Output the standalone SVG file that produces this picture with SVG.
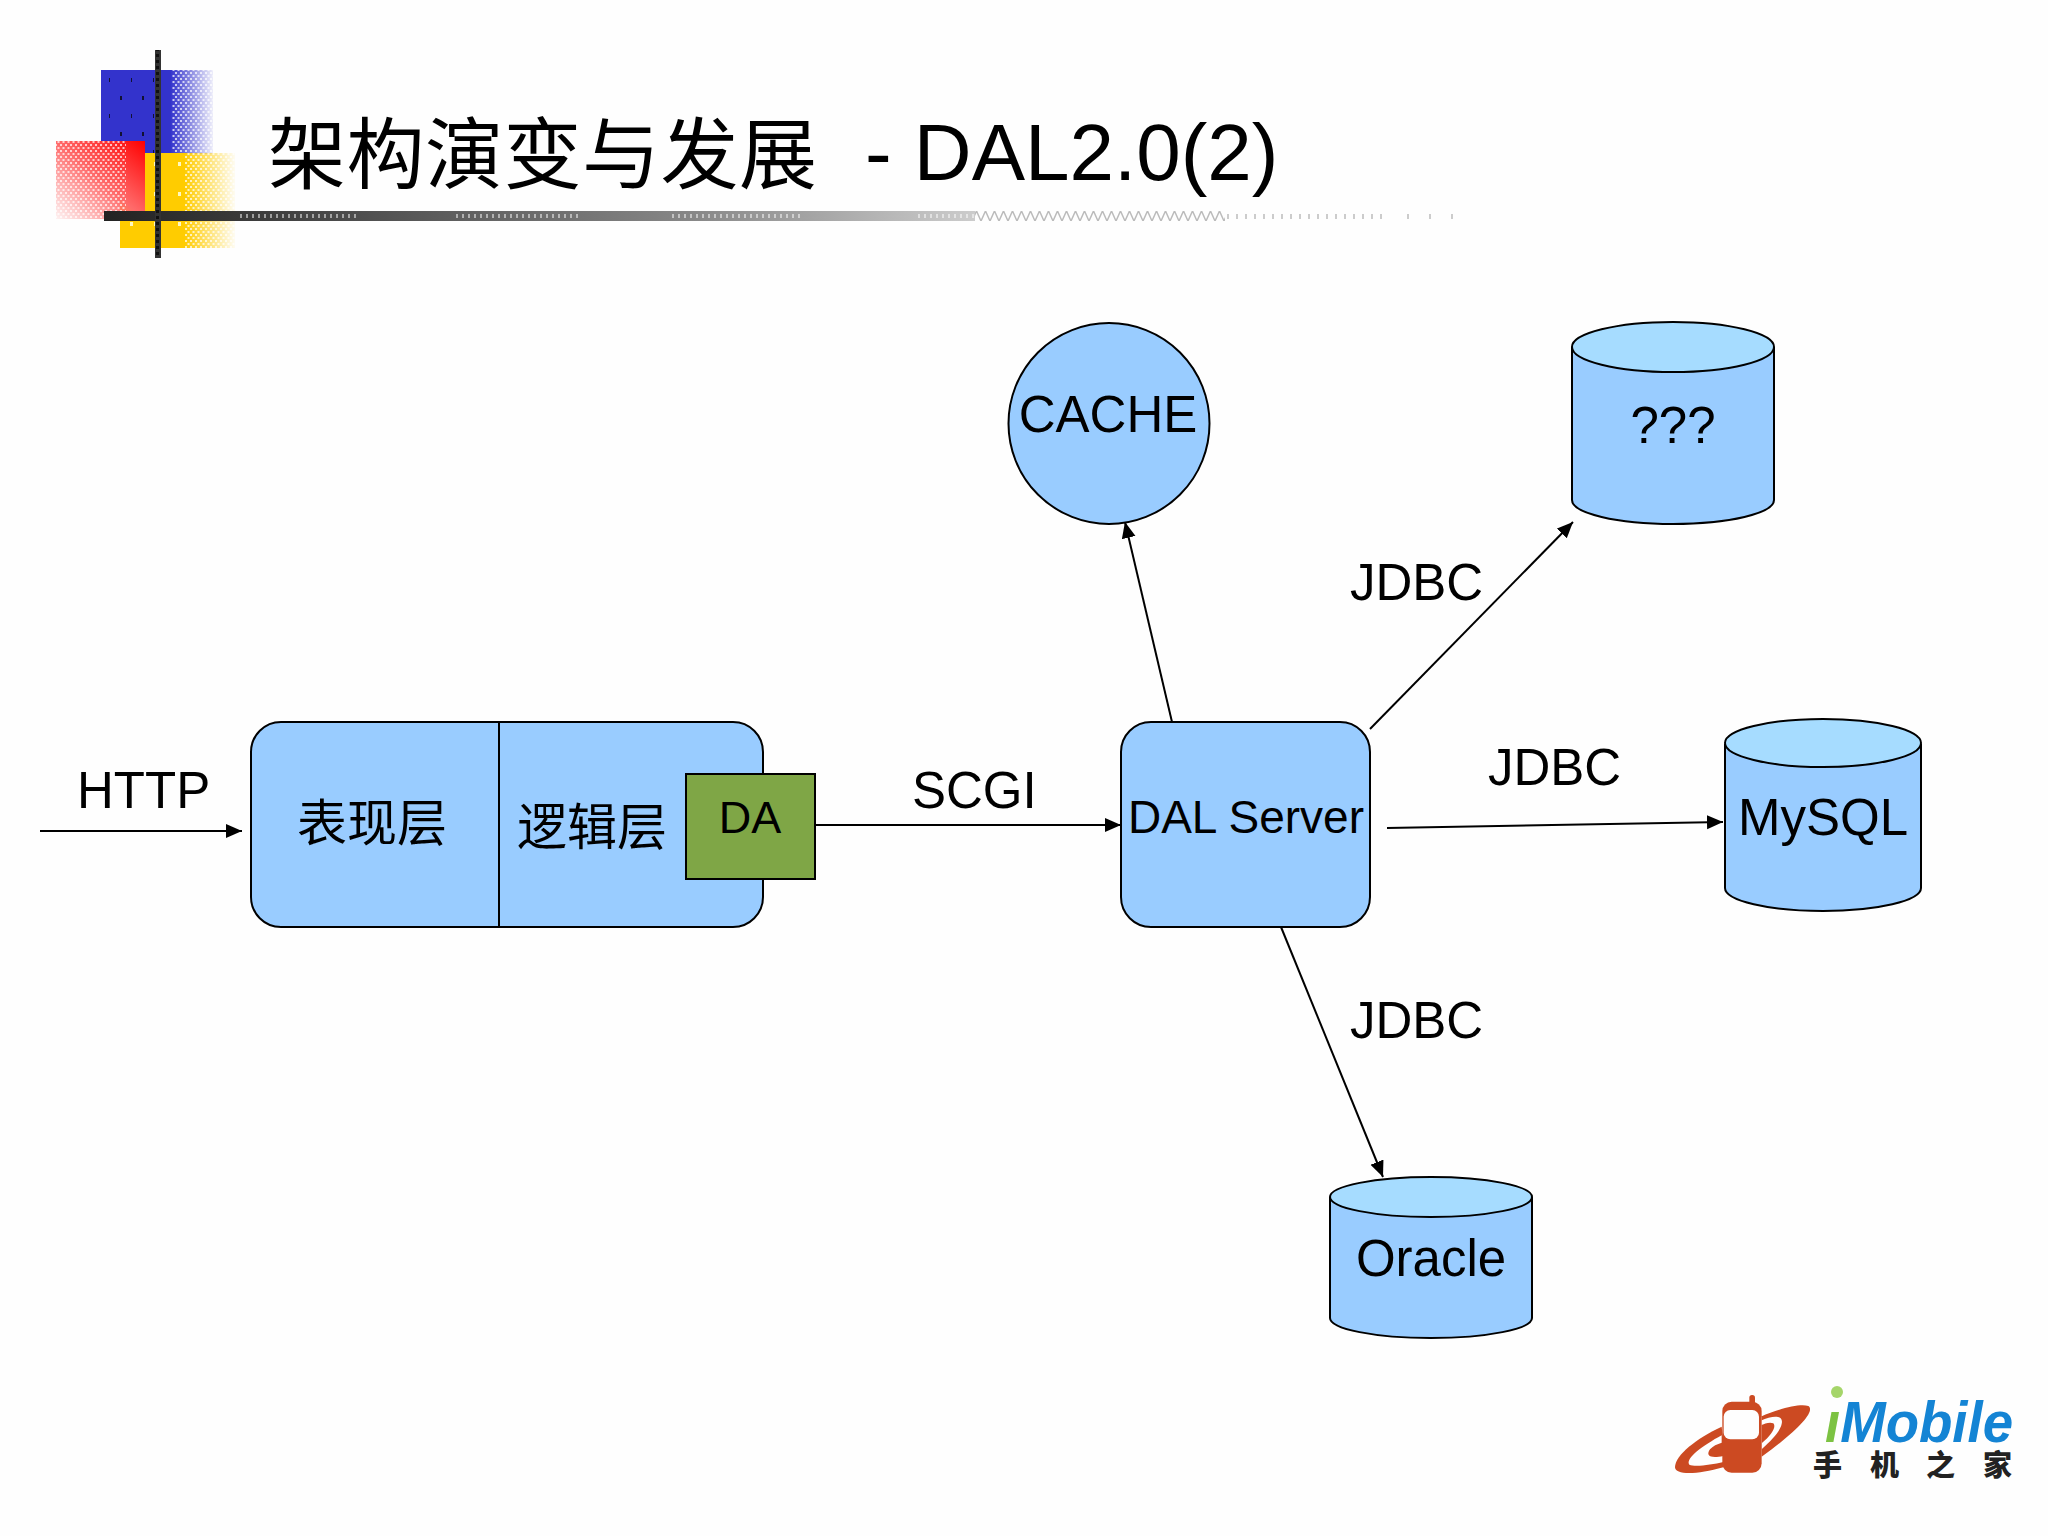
<svg xmlns="http://www.w3.org/2000/svg" width="2048" height="1536" viewBox="0 0 2048 1536">
<style>
text{font-family:"Liberation Sans","Noto Sans CJK SC",sans-serif;fill:#000}
.n{fill:#99ccff;stroke:#000;stroke-width:2}
.top{fill:#a6dcff;stroke:#000;stroke-width:2}
.l{font-size:51px}
.c{font-size:50px;text-anchor:middle}
.cn{stroke:#000;stroke-width:2;fill:none;marker-end:url(#a)}
</style>
<defs>
<marker id="a" markerUnits="userSpaceOnUse" markerWidth="18" markerHeight="16" refX="16" refY="7" orient="auto"><path d="M0 0L16 7L0 14Z" fill="#000"/></marker>
<linearGradient id="bl" x1="0" x2="1" y1="0" y2="0"><stop offset="0" stop-color="#3333cc"/><stop offset=".62" stop-color="#3333cc"/><stop offset="1" stop-color="#3333cc" stop-opacity=".08"/></linearGradient>
<linearGradient id="ye" x1="0" x2="1" y1="0" y2="0"><stop offset="0" stop-color="#ffcc00"/><stop offset=".56" stop-color="#ffcc00"/><stop offset="1" stop-color="#ffcc00" stop-opacity=".05"/></linearGradient>
<linearGradient id="re" x1="1" x2="0" y1="0" y2="1"><stop offset="0" stop-color="#ff0000"/><stop offset=".5" stop-color="#ff6a6a"/><stop offset="1" stop-color="#ff8080" stop-opacity=".1"/></linearGradient>
<linearGradient id="bar" gradientUnits="userSpaceOnUse" x1="104" x2="975" y1="0" y2="0"><stop offset="0" stop-color="#222"/><stop offset=".68" stop-color="#888"/><stop offset="1" stop-color="#ccc"/></linearGradient>
<pattern id="dw" width="5" height="6" patternUnits="userSpaceOnUse"><rect width="2" height="2" fill="#fff" fill-opacity=".7"/><rect x="2.500" y="3" width="2" height="2" fill="#fff" fill-opacity=".7"/></pattern>
<pattern id="dk" width="22" height="36" patternUnits="userSpaceOnUse"><rect x="21" y="6" width="2" height="4" fill="#113"/><rect x="10" y="24" width="2" height="4" fill="#113"/></pattern>
<pattern id="dy" width="24" height="30" patternUnits="userSpaceOnUse"><rect x="10" y="12" width="3" height="4" fill="#fff8c0"/></pattern>
<pattern id="dv" width="6" height="6" patternUnits="userSpaceOnUse"><rect width="6" height="6" fill="#333"/><rect width="3" height="3" fill="#111"/></pattern>
<pattern id="dh" width="6" height="10" patternUnits="userSpaceOnUse" y="211"><rect x="0" y="3" width="2" height="4" fill="#fff" fill-opacity=".5"/></pattern>
<pattern id="zg" width="9" height="10" patternUnits="userSpaceOnUse" y="211"><path d="M0 10L4.500 0L9 10" fill="none" stroke="#bbb" stroke-width="1.500"/></pattern>
<pattern id="tk" width="9" height="10" patternUnits="userSpaceOnUse" y="211"><rect x="3" y="3" width="2" height="5" fill="#ccc"/></pattern>
</defs>
<rect id="bg" width="2048" height="1536" fill="#fefefe"/>
<g id="decor">
<rect x="101" y="70" width="112" height="84" fill="url(#bl)"/>
<rect x="101" y="70" width="60" height="84" fill="url(#dk)"/>
<rect x="172" y="70" width="41" height="84" fill="url(#dw)"/>
<rect x="120" y="153" width="115" height="95" fill="url(#ye)"/>
<rect x="120" y="153" width="65" height="95" fill="url(#dy)"/>
<rect x="185" y="153" width="50" height="95" fill="url(#dw)"/>
<rect x="56" y="141" width="89" height="78" fill="url(#re)"/>
<rect x="56" y="141" width="70" height="78" fill="url(#dw)"/>
<rect x="104" y="211" width="871" height="10" fill="url(#bar)"/>
<rect x="240" y="211" width="120" height="10" fill="url(#dh)"/>
<rect x="455" y="211" width="125" height="10" fill="url(#dh)"/>
<rect x="670" y="211" width="130" height="10" fill="url(#dh)"/>
<rect x="915" y="211" width="60" height="10" fill="url(#dh)"/>
<rect x="975" y="211" width="250" height="10" fill="url(#zg)"/>
<rect x="1225" y="211" width="160" height="10" fill="url(#tk)"/>
<path d="M1408 214v5M1430 214v5M1452 214v5" stroke="#ccc" stroke-width="2"/>
<rect x="155" y="50" width="6" height="208" fill="url(#dv)"/>
</g>
<g id="title">
<text x="268" y="183" font-size="78" textLength="549">架构演变与发展</text>
<text x="865" y="180" font-size="80">- DAL2.0(2)</text>
</g>
<g id="connectors">
<path class="cn" d="M40 831H242"/>
<path class="cn" d="M815 825H1121"/>
<path class="cn" d="M1172 722L1125 522"/>
<path class="cn" d="M1370 729L1573 522"/>
<path class="cn" d="M1387 828L1723 822"/>
<path class="cn" d="M1281 927L1383 1177"/>
</g>
<g id="labels">
<text class="l" x="77" y="808">HTTP</text>
<text class="l" x="912" y="808">SCGI</text>
<text class="l" x="1350" y="600">JDBC</text>
<text class="l" x="1488" y="785">JDBC</text>
<text class="l" x="1350" y="1038">JDBC</text>
</g>
<g id="app">
<rect class="n" x="251" y="722" width="512" height="205" rx="30" ry="30"/>
<path d="M499 722V927" stroke="#000" stroke-width="2"/>
<text class="c" x="372" y="841">表现层</text>
<text class="c" x="592" y="845">逻辑层</text>
</g>
<g id="da">
<rect x="686" y="774" width="129" height="105" fill="#7fa646" stroke="#000" stroke-width="2"/>
<text x="750" y="833" font-size="45" text-anchor="middle">DA</text>
</g>
<g id="dal">
<rect class="n" x="1121" y="722" width="249" height="205" rx="30" ry="30"/>
<text x="1246" y="833" font-size="46" text-anchor="middle">DAL Server</text>
</g>
<g id="cache">
<circle class="n" cx="1109" cy="423.500" r="100.500"/>
<text class="l" x="1108" y="432" text-anchor="middle">CACHE</text>
</g>
<g id="db1">
<path class="n" d="M1572 347V500A101 24 0 0 0 1774 500V347"/>
<ellipse class="top" cx="1673" cy="347" rx="101" ry="25"/>
<text class="l" x="1673" y="443" text-anchor="middle">???</text>
</g>
<g id="mysql">
<path class="n" d="M1725 744V888A98 23 0 0 0 1921 888V744"/>
<ellipse class="top" cx="1823" cy="743" rx="98" ry="24"/>
<text class="l" x="1823" y="835" text-anchor="middle">MySQL</text>
</g>
<g id="oracle">
<path class="n" d="M1330 1197V1318A101 20 0 0 0 1532 1318V1197"/>
<ellipse class="top" cx="1431" cy="1197" rx="101" ry="20"/>
<text class="l" x="1431" y="1276" text-anchor="middle">Oracle</text>
</g>
<g id="logo">
<g transform="translate(1640 1360) scale(.3333)" fill="#cc4a22">
<path d="M245 200C170 235 105 285 105 322C105 345 170 345 250 322V240Z"/>
<path d="M362 170C420 145 480 130 505 138C525 150 490 200 365 290V170Z"/>
<path d="M245 226C190 256 135 295 148 314C165 322 215 314 250 306V288C215 295 195 290 210 268C218 258 232 252 245 248Z" fill="#fefefe"/>
<path d="M362 182C400 165 432 165 425 192C420 215 395 240 365 268V250C395 225 410 200 400 190C390 185 375 190 362 196Z" fill="#fefefe"/>
<rect x="247" y="125" width="118" height="213" rx="28"/>
<rect x="328" y="105" width="17" height="30" rx="8"/>
<rect x="251" y="150" width="106" height="88" rx="20" fill="#fefefe"/>
</g>
<circle cx="1837" cy="1392" r="6" fill="#a5d56a"/>
<text x="1825" y="1442" font-size="58" font-weight="700" font-style="italic" textLength="188" lengthAdjust="spacingAndGlyphs"><tspan style="fill:#7cc242">ı</tspan><tspan style="fill:#1484d4">Mobile</tspan></text>
<text x="1813 1870 1926 1983" y="1476" font-size="29" font-weight="900" style="fill:#222">手机之家</text>
</g>
</svg>
